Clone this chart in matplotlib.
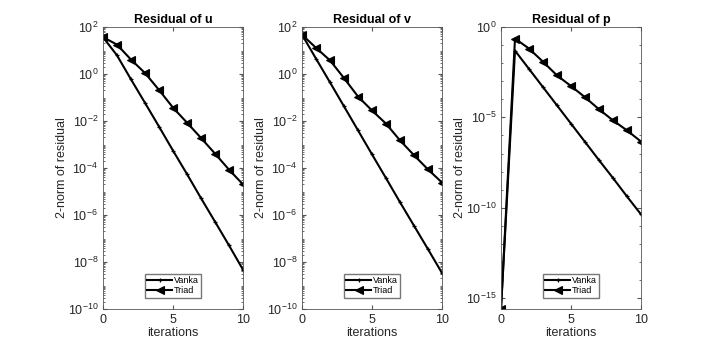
import matplotlib
matplotlib.use("Agg")
import matplotlib.pyplot as plt
from matplotlib.ticker import FixedLocator, NullFormatter, LogLocator

plt.rcParams["font.family"] = ["Liberation Sans", "DejaVu Sans"]
plt.rcParams["mathtext.fontset"] = "custom"
plt.rcParams["mathtext.rm"] = "Liberation Sans"

iters = list(range(11))

u_vanka = [37, 6.2, 0.59, 0.059, 5.8e-3, 5.5e-4, 5.5e-5, 5.2e-6, 5.2e-7, 5.1e-8, 4.7e-9]
u_triad = [37, 17.8, 4.1, 1.1, 0.21, 0.037, 8.5e-3, 1.9e-3, 4.1e-4, 8.5e-5, 2.0e-5]

v_vanka = [47, 4.5, 0.44, 0.042, 4.0e-3, 3.8e-4, 3.7e-5, 3.5e-6, 3.5e-7, 3.5e-8, 3.4e-9]
v_triad = [47, 13, 3.8, 0.67, 0.11, 0.028, 7.7e-3, 1.5e-3, 3.5e-4, 8.7e-5, 2.4e-5]

p_vanka = [2.5e-16, 0.049, 4.8e-3, 4.7e-4, 4.6e-5, 4.5e-6, 4.4e-7, 4.3e-8, 4.4e-9, 4.2e-10, 4.3e-11]
p_triad = [2.5e-16, 0.23, 0.064, 0.012, 2.1e-3, 5.4e-4, 1.3e-4, 2.8e-5, 6.8e-6, 1.9e-6, 4.6e-7]

titles = ["Residual of u", "Residual of v", "Residual of p"]
INK = "#262626"
AX = "#555555"

fig = plt.figure(figsize=(7.08, 3.48), dpi=100)
lefts = [103 / 708, 302 / 708, 501 / 708]
w = 140 / 708
b = 39 / 348
h = 282 / 348

panels = [(u_vanka, u_triad), (v_vanka, v_triad), (p_vanka, p_triad)]
for i, (vk, tr) in enumerate(panels):
    ax = fig.add_axes([lefts[i], b, w, h])
    ax.semilogy(iters, vk, "-", color="k", lw=1.5, marker="+", ms=3.5, mew=0.9, label="Vanka")
    ax.semilogy(iters, tr, "-", color="k", lw=1.5, marker="<", ms=5.5, mew=0.8,
                mfc="k", label="Triad")
    ax.set_xlim(0, 10)
    ax.set_xticks([0, 5, 10])
    if i < 2:
        ax.set_ylim(1e-10, 1e2)
        ax.yaxis.set_major_locator(FixedLocator([10.0 ** k for k in range(-10, 3, 2)]))
        ax.yaxis.set_minor_locator(LogLocator(base=10, subs=range(1, 10), numticks=30))
    else:
        ax.set_ylim(2.5e-16, 1e0)
        ax.yaxis.set_major_locator(FixedLocator([1e-15, 1e-10, 1e-5, 1e0]))
        ax.yaxis.set_minor_locator(FixedLocator([10.0 ** k for k in range(-16, 1)]))
    ax.yaxis.set_minor_formatter(NullFormatter())
    ax.tick_params(which="both", direction="in", top=True, right=True,
                   colors=AX, labelcolor=INK, labelsize=9)
    ax.tick_params(which="major", length=3)
    ax.tick_params(which="minor", length=1.5)
    for s in ax.spines.values():
        s.set_color(AX)
        s.set_linewidth(0.6)
    ax.set_title(titles[i], fontsize=9, fontweight="bold", color="k", pad=3)
    ax.set_xlabel("iterations", fontsize=9, color=INK, labelpad=1)
    ax.set_ylabel("2-norm of residual", fontsize=9, color=INK, labelpad=0)
    ax.legend(loc="lower center", bbox_to_anchor=(0.5, 0.04), fontsize=6.5,
              frameon=True, fancybox=False, edgecolor=AX, handlelength=2.8,
              handletextpad=0.2, borderpad=0.25, labelspacing=0.15, borderaxespad=0)

fig.savefig("out.png", dpi=100, facecolor="white")
